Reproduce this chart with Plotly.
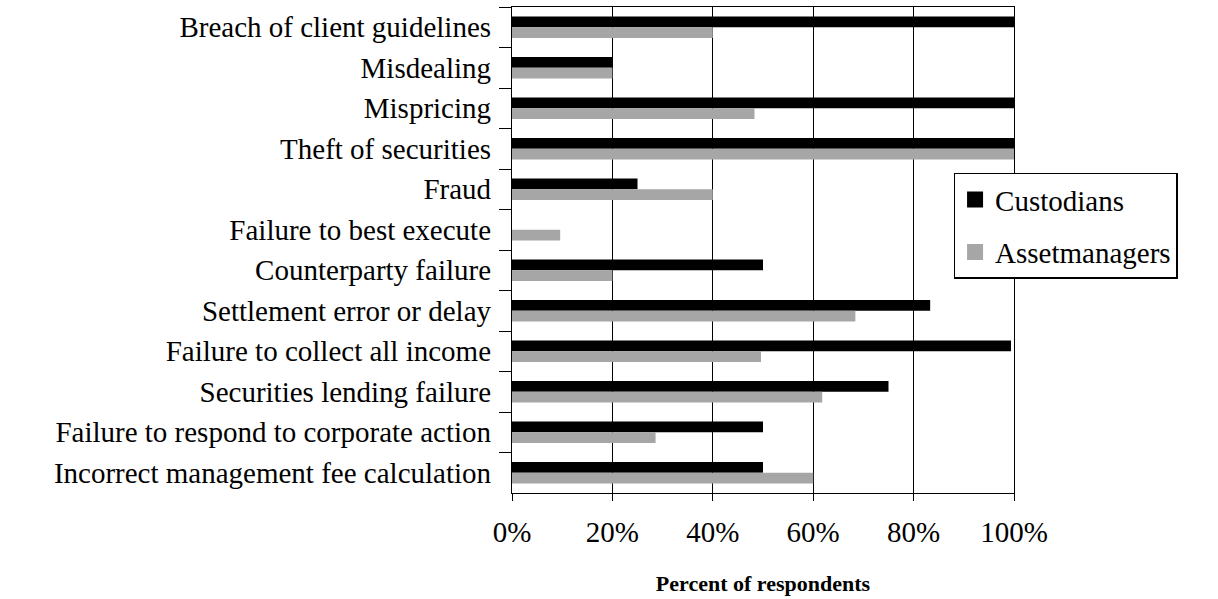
import plotly.graph_objects as go

categories = [
    "Breach of client guidelines",
    "Misdealing",
    "Mispricing",
    "Theft of securities",
    "Fraud",
    "Failure to best execute",
    "Counterparty failure",
    "Settlement error or delay",
    "Failure to collect all income",
    "Securities lending failure",
    "Failure to respond to corporate action",
    "Incorrect management fee calculation",
]
custodians = [100, 20, 100, 100, 25, 0, 50, 83.3, 99.4, 75, 50, 50]
asset_managers = [40, 20, 48.3, 100, 40, 9.6, 20, 68.4, 49.6, 61.8, 28.6, 60]
x_ticks = [0, 20, 40, 60, 80, 100]
x_tick_labels = ["0%", "20%", "40%", "60%", "80%", "100%"]

BLACK = "#000000"
GRAY = "#a6a6a6"
FONT = "Liberation Serif"

fig = go.Figure()
fig.add_trace(go.Bar(y=categories, x=custodians, orientation="h", name="Custodians",
                     marker=dict(color=BLACK, line=dict(width=0)), showlegend=False))
fig.add_trace(go.Bar(y=categories, x=asset_managers, orientation="h", name="Assetmanagers",
                     marker=dict(color=GRAY, line=dict(width=0)), showlegend=False))
# legend entries with larger square swatches
fig.add_trace(go.Scatter(x=[None], y=[None], mode="markers", name="Custodians",
                         marker=dict(symbol="square", size=17, color=BLACK),
                         legendgroup="c"))
fig.add_trace(go.Scatter(x=[None], y=[None], mode="markers", name="Assetmanagers",
                         marker=dict(symbol="square", size=17, color=GRAY),
                         legendgroup="a"))

fig.update_layout(
    width=1218, height=599,
    margin=dict(l=512, r=204, t=7, b=106),
    paper_bgcolor="white", plot_bgcolor="white",
    barmode="group", bargap=0.466, bargroupgap=0,
    font=dict(family=FONT, size=29, color="black"),
    showlegend=True,
    legend=dict(x=0.880, y=0.659, xanchor="left", yanchor="top",
                bgcolor="white", bordercolor="black", borderwidth=1.3,
                font=dict(family=FONT, size=29, color="black"),
                tracegroupgap=12, itemclick=False),
    xaxis=dict(range=[0, 100], tickvals=x_ticks, ticktext=x_tick_labels,
               showgrid=True, gridcolor="black", gridwidth=1.3,
               showline=True, linecolor="black", linewidth=1.3, mirror=True,
               ticks="outside", ticklen=7, tickcolor="black", tickwidth=1.3,
               ticklabelstandoff=6, zeroline=False,
               tickfont=dict(family=FONT, size=29),
               title=dict(text="Percent of respondents", standoff=28,
                          font=dict(family=FONT, size=22, weight="bold"))),
    yaxis=dict(categoryorder="array", categoryarray=categories, autorange="reversed",
               showline=True, linecolor="black", linewidth=1.3, mirror=True,
               ticks="outside", tickson="boundaries", ticklen=12, tickcolor="black",
               tickwidth=1.3, ticklabelstandoff=14, showgrid=False,
               tickfont=dict(family=FONT, size=29)),
)

fig.write_html("out.html", post_script="document.body.style.margin='0';",
               config={"displayModeBar": False})
